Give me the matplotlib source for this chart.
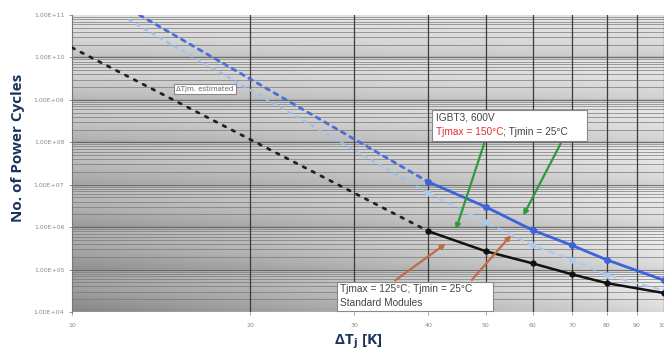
"""
Power cycling capability vs. junction temperature swing (IGBT3 600V vs standard modules).
"""
import numpy as np
import matplotlib.pyplot as plt
from matplotlib.ticker import FixedLocator, NullLocator

# --- data ---
# extrapolated (dashed) parts
std_est_dt = [10, 40]
std_est_n = [1.7e10, 8.0e5]
igbt3_est_dt = [13, 40]
igbt3_est_n = [1.0e11, 1.16e7]
igbt3_lo_est_dt = [12.5, 40]
igbt3_lo_est_n = [7.6e10, 6.4e6]

# measured (solid) parts
dt_meas = [40, 50, 60, 70, 80, 100]
std_n = [8.0e5, 2.7e5, 1.4e5, 7.7e4, 4.8e4, 2.8e4]
igbt3_n = [1.16e7, 3.0e6, 8.5e5, 3.7e5, 1.7e5, 5.6e4]
igbt3_lo_n = [6.4e6, 1.3e6, 3.7e5, 1.7e5, 7.5e4, 3.2e4]

x_ticks = [10, 20, 30, 40, 50, 60, 70, 80, 90, 100]
y_ticks = [1e4, 1e5, 1e6, 1e7, 1e8, 1e9, 1e10, 1e11]

navy = '#1c3360'
tick_gray = '#8a8a8a'
box_font = 'Liberation Sans'

fig = plt.figure(figsize=(6.64, 3.56), dpi=100)
ax = fig.add_axes([72 / 664, 1 - 312 / 356, 1 - 72 / 664, (312 - 15) / 356])
ax.set_xscale('log')
ax.set_yscale('log')
ax.set_xlim(10, 100)
ax.set_ylim(1e4, 1e11)

# scanned-looking gray gradient background
yy, xx = np.mgrid[0:1:300j, 0:1:200j]   # yy: 0 top -> 1 bottom
decade = (yy * 7) % 1.0
shade = 0.89 - 0.27 * yy * (1 - xx) ** 0.8 - 0.1 * decade ** 2 + 0.06 * xx * yy
ax.imshow(shade, cmap='gray', vmin=0, vmax=1, aspect='auto',
          extent=[0, 1, 0, 1], transform=ax.transAxes, zorder=0)

# grid: vertical at x ticks, horizontal at every minor log step
for d in range(4, 11):
    for m in range(1, 10):
        v = m * 10.0 ** d
        if v > 1e11:
            continue
        lw, c = (1.0, '#555555') if m == 1 else (0.6, '#767676')
        ax.axhline(v, color=c, lw=lw, alpha=0.8, zorder=1)
for xv in x_ticks[1:]:
    ax.axvline(xv, color='#3c3c3c', lw=0.9, zorder=1)

# curves
ax.plot(std_est_dt, std_est_n, color='#222222', lw=2.0, ls=(0, (1, 2.6)),
        dash_capstyle='round', zorder=3)
ax.plot(igbt3_est_dt, igbt3_est_n, color='#4a6fd8', lw=2.0, ls=(0, (1.5, 2)),
        dash_capstyle='round', zorder=3)
ax.plot(igbt3_lo_est_dt, igbt3_lo_est_n, color='#9ec0ee', lw=1.8, ls=(0, (1, 2.5)),
        dash_capstyle='round', zorder=3)

ax.plot(dt_meas, igbt3_lo_n, color='#a9cbf2', lw=1.6, ls=(0, (3, 2)),
        marker='o', ms=3.5, zorder=4)
ax.plot(dt_meas, igbt3_n, color='#3d63dc', lw=2.0, marker='o', ms=4, zorder=5)
ax.plot(dt_meas, std_n, color='#111111', lw=1.8, marker='o', ms=3.5, zorder=5)

# ticks
ax.xaxis.set_major_locator(FixedLocator(x_ticks))
ax.xaxis.set_minor_locator(NullLocator())
ax.set_xticklabels([str(v) for v in x_ticks])
ax.yaxis.set_major_locator(FixedLocator(y_ticks))
ax.yaxis.set_minor_locator(NullLocator())
ax.set_yticklabels(['1.00E+%02d' % int(np.log10(v)) for v in y_ticks])
ax.tick_params(axis='both', labelsize=4.5, colors=tick_gray, length=2, width=0.6)
ax.tick_params(axis='x', pad=6)
for s in ax.spines.values():
    s.set_visible(False)
ax.spines['left'].set_visible(True)
ax.spines['left'].set_color('#777777')

fig.text(18 / 664, 1 - 148 / 356, 'No. of Power Cycles', rotation=90, ha='center', va='center',
         fontsize=11, fontweight='bold', color=navy, family='Open Sans')
fig.text(358 / 664, 1 - 342 / 356, r'ΔT$_\mathbf{j}$ [K]', ha='center', va='center',
         fontsize=11, fontweight='bold', color=navy, family='Open Sans')


def px(x, y):
    return x / 664, 1 - y / 356


# annotation boxes
bx = dict(boxstyle='square,pad=0.35', fc='white', ec='#888888', lw=0.8)
fig.text(*px(176, 89), 'ΔTjm. estimated', fontsize=5, color='#666666',
         va='center', ha='left', bbox=bx, zorder=10)

fig.patches.append(plt.Rectangle(px(432, 141), 155 / 664, 31 / 356, transform=fig.transFigure,
                                 fc='white', ec='#888888', lw=0.8, zorder=9))
fig.text(*px(436, 118), 'IGBT3, 600V', fontsize=7.3, color='#444444',
         va='center', ha='left', zorder=11, family=box_font)
red = fig.text(*px(436, 132), 'Tjmax = 150°C', fontsize=7.3, color='#e8302a',
               va='center', ha='left', zorder=11, family=box_font)
fig.canvas.draw()
bb = red.get_window_extent()
fig.text(bb.x1 / fig.bbox.width, 1 - 132 / 356, '; Tjmin = 25°C', fontsize=7.3,
         color='#444444', va='center', ha='left', zorder=11, family=box_font)

fig.patches.append(plt.Rectangle(px(337, 311), 156 / 664, 29 / 356, transform=fig.transFigure,
                                 fc='white', ec='#888888', lw=0.8, zorder=9))
fig.text(*px(340, 289), 'Tjmax = 125°C; Tjmin = 25°C', fontsize=7.3, color='#444444',
         va='center', ha='left', zorder=11, family=box_font)
fig.text(*px(340, 303), 'Standard Modules', fontsize=7.3, color='#444444',
         va='center', ha='left', zorder=11, family=box_font)

# arrows
for (x0, y0, x1, y1, c) in [(485, 141, 455, 232, '#2e9a3a'), (562, 141, 522, 218, '#2e9a3a'),
                            (393, 282, 448, 242, '#c46a45'), (470, 282, 513, 233, '#c46a45')]:
    ax.annotate('', xy=px(x1, y1), xytext=px(x0, y0), xycoords='figure fraction',
                textcoords='figure fraction',
                arrowprops=dict(arrowstyle='-|>', color=c, lw=1.6, mutation_scale=7),
                zorder=8)

fig.savefig('out.png', dpi=100)
